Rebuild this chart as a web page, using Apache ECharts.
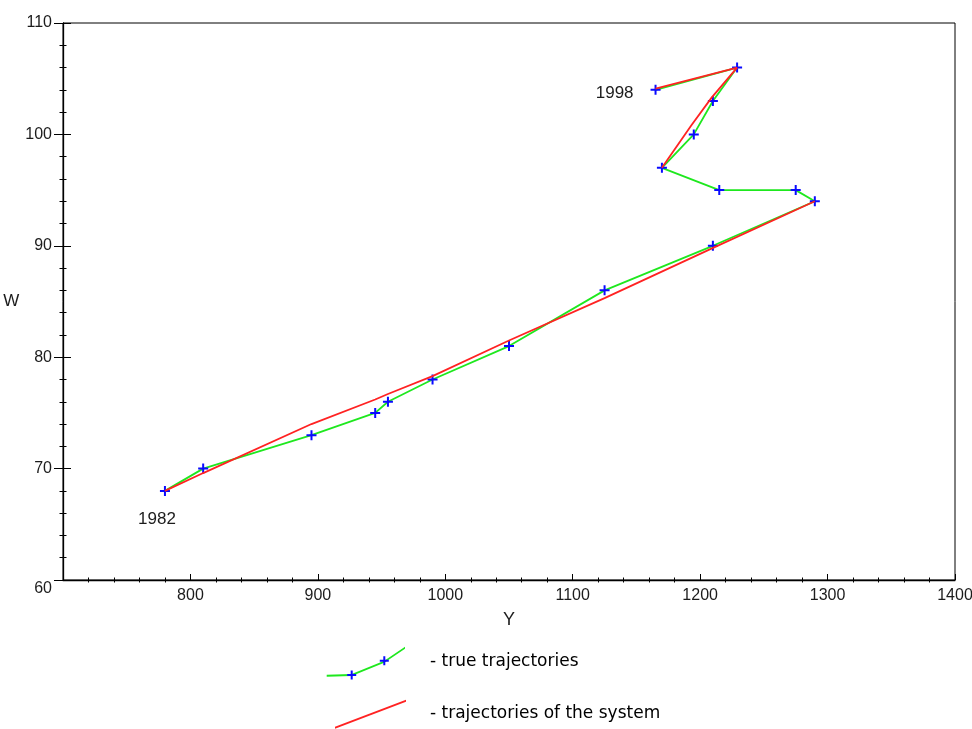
<!DOCTYPE html>
<html>
<head>
<meta charset="utf-8">
<script src="https://cdn.jsdelivr.net/npm/echarts@6/dist/echarts.min.js"></script>
<style>
  html, body { margin: 0; padding: 0; background: #fff; }
  #chart { width: 972px; height: 729px; }
</style>
</head>
<body>
<div id="chart"></div>
<script>
// years of the trajectory
const years = [1982, 1983, 1984, 1985, 1986, 1987, 1988, 1989, 1990, 1991, 1992, 1993, 1994, 1995, 1996, 1997, 1998];
// true trajectory (Y, W)
const trueY = [780, 810, 895, 945, 955, 990, 1050, 1125, 1210, 1290, 1275, 1215, 1170, 1195, 1210, 1229, 1165];
const trueW = [68, 70, 73, 75, 76, 78, 81, 86, 90, 94, 95, 95, 97, 100, 103, 106, 104];
// trajectory of the system (null = not drawn)
const sysY = [780, 810, 895, 945, 955, 990, 1050, 1125, 1208, 1290, null, null, 1170, 1193, 1209, 1229, 1165];
const sysW = [68, 69.6, 74.0, 76.2, 76.7, 78.3, 81.5, 85.3, 89.7, 94, null, null, 97, 100.8, 103.3, 106, 104.1];

const seriesNames = ['true trajectories', 'trajectories of the system'];

const GREEN = '#1ee81e';
const RED = '#ff2222';
const BLUE = '#0a0aff';
const TXT = '#1c1c1c';
const FONT = '"Liberation Sans", Arial, sans-serif';

const plusPath = 'path://M4,0h2v4h4v2h-4v4h-2v-4h-4v-2h4z';

// legend icons (drawn in an 80x36 box, corners pinned by empty moves)
const pin = 'M0,0 L0,0 M80,36 L80,36 ';
const greenIcon = 'path://' + pin + 'M0.7,30.7 L25.7,30 L58.3,16.7 L79,2.7 L79,4.7 L58.3,18.7 L25.7,32 L0.7,32.7 Z';
const redIcon = 'path://' + pin + 'M9,30.7 L80,3.7 L80,5.7 L9,32.7 Z';
const plusIcon = 'path://' + pin +
  'M24.7,26.5 h2 v3.5 h3.5 v2 h-3.5 v3.5 h-2 v-3.5 h-3.5 v-2 h3.5 Z ' +
  'M57.3,12.2 h2 v3.5 h3.5 v2 h-3.5 v3.5 h-2 v-3.5 h-3.5 v-2 h3.5 Z';

const last = years.length - 1;
const trueData = trueY.map((y, i) => {
  const item = { value: [y, trueW[i]] };
  if (i === 0) {
    item.label = { show: true, position: 'bottom', offset: [-8, 10], formatter: String(years[i]) };
  } else if (i === last) {
    item.label = { show: true, position: 'left', offset: [-12, 3], formatter: String(years[i]) };
  }
  return item;
});
const sysData = sysY.map((y, i) => (y === null ? ['-', '-'] : [y, sysW[i]]));

const legendText = { fontFamily: '"DejaVu Sans", sans-serif', fontSize: 17, color: '#000', padding: [2, 0, 0, 19] };
function legendBox(top, item, text) {
  return {
    left: 326, top: top, orient: 'vertical', padding: 0,
    itemWidth: 80, itemHeight: 36,
    selectedMode: false,
    formatter: text ? '- {name}' : () => '',
    textStyle: legendText,
    data: [item]
  };
}

const chart = echarts.init(document.getElementById('chart'));
chart.setOption({
  animation: false,
  backgroundColor: '#fff',
  textStyle: { fontFamily: FONT },
  grid: {
    left: 63, right: 17, top: 23, bottom: 149,
    show: true, borderColor: '#000', borderWidth: 1,
    outerBoundsMode: 'none'
  },
  legend: [
    legendBox(644, { name: seriesNames[0], icon: greenIcon, itemStyle: { color: GREEN, borderWidth: 0 } }, true),
    legendBox(644, { name: seriesNames[0], icon: plusIcon, itemStyle: { color: BLUE, borderWidth: 0 } }, false),
    legendBox(696, { name: seriesNames[1], icon: redIcon, itemStyle: { color: RED, borderWidth: 0 } }, true)
  ],
  xAxis: [
    {
      type: 'value', min: 700, max: 1400, interval: 100,
      name: 'Y', nameLocation: 'middle', nameGap: 31,
      nameTextStyle: { fontSize: 18, color: TXT, fontFamily: FONT },
      axisLine: { show: true, onZero: false, lineStyle: { color: '#000', width: 1.3 } },
      axisTick: { show: true, inside: true, length: 6, lineStyle: { color: '#000' } },
      minorTick: { show: true, splitNumber: 5, length: 2.5, lineStyle: { color: '#000' } },
      axisLabel: {
        fontSize: 16, color: TXT, margin: 8, fontFamily: FONT,
        formatter: v => (v === 700 ? '' : String(v))
      },
      splitLine: { show: false }
    },
    {
      type: 'value', min: 700, max: 1400, interval: 100, position: 'bottom',
      axisLine: { show: false },
      axisTick: { show: false, inside: false },
      minorTick: { show: true, splitNumber: 5, length: 2.5, lineStyle: { color: '#000' } },
      axisLabel: { show: false },
      splitLine: { show: false }
    }
  ],
  yAxis: [
    {
      type: 'value', min: 60, max: 110, interval: 10,
      name: 'W', nameLocation: 'middle', nameGap: 38, nameRotate: 0,
      nameTextStyle: { fontSize: 17, color: TXT, fontFamily: FONT },
      axisLine: { show: true, onZero: false, lineStyle: { color: '#000', width: 1.3 } },
      axisTick: { show: true, inside: false, length: 9, lineStyle: { color: '#000' } },
      minorTick: { show: true, splitNumber: 5, length: 3.5, lineStyle: { color: '#000' } },
      axisLabel: {
        fontSize: 16, color: TXT, margin: 11, fontFamily: FONT,
        formatter: v => (v === 60 ? '{low|60}' : String(v)),
        rich: { low: { fontSize: 16, color: TXT, fontFamily: FONT, padding: [18, 0, 0, 0] } }
      },
      splitLine: { show: false }
    },
    {
      type: 'value', min: 60, max: 110, interval: 10, position: 'left',
      axisLine: { show: false },
      axisTick: { show: true, inside: true, length: 8, lineStyle: { color: '#000' } },
      minorTick: { show: true, splitNumber: 5, length: 3.5, lineStyle: { color: '#000' } },
      axisLabel: { show: false },
      splitLine: { show: false }
    }
  ],
  series: [
    {
      name: seriesNames[0],
      type: 'line',
      data: trueData,
      z: 2,
      symbol: plusPath,
      symbolSize: 10,
      showAllSymbol: true,
      itemStyle: { color: BLUE },
      lineStyle: { color: GREEN, width: 1.8 },
      label: { color: TXT, fontSize: 17, fontFamily: FONT },
      emphasis: { disabled: true }
    },
    {
      name: seriesNames[1],
      type: 'line',
      data: sysData,
      z: 3,
      showSymbol: false,
      symbol: 'none',
      connectNulls: false,
      itemStyle: { color: RED },
      lineStyle: { color: RED, width: 1.8 },
      emphasis: { disabled: true }
    }
  ]
});
</script>
</body>
</html>
